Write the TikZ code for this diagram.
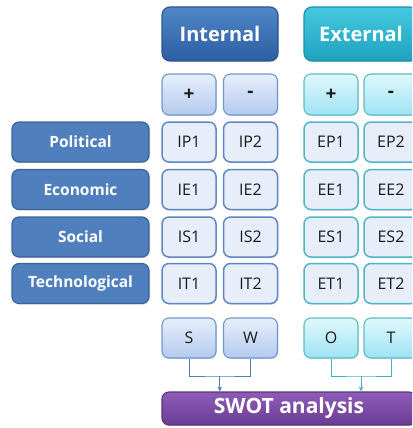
\documentclass[tikz,border=0pt]{standalone}
\usepackage{fontspec}
\setmainfont{Open Sans}
\usetikzlibrary{shadows,arrows.meta}
\definecolor{ihdtop}{HTML}{4F87C9}
\definecolor{ihdbot}{HTML}{2C5EA2}
\definecolor{ihdbd}{HTML}{2B5590}
\definecolor{ehdtop}{HTML}{45C8DF}
\definecolor{ehdbot}{HTML}{1EA2BF}
\definecolor{ehdbd}{HTML}{1B8FA8}
\definecolor{ipmtop}{HTML}{E6EEFB}
\definecolor{ipmbot}{HTML}{B3CAEE}
\definecolor{ipmbd}{HTML}{6E97CE}
\definecolor{epmtop}{HTML}{E0F8FC}
\definecolor{epmbot}{HTML}{9EE3F3}
\definecolor{epmbd}{HTML}{5BBCCC}
\definecolor{cellfill}{HTML}{E7EEFA}
\definecolor{icellbd}{HTML}{5E88C2}
\definecolor{ecellbd}{HTML}{4FB6C8}
\definecolor{lblfill}{HTML}{4F80BD}
\definecolor{lblbd}{HTML}{3B6496}
\definecolor{swtop}{HTML}{8E5CB8}
\definecolor{swbot}{HTML}{6A3D93}
\definecolor{swbd}{HTML}{57347A}
\definecolor{iline}{HTML}{4A7EBF}
\definecolor{eline}{HTML}{3FB3C8}
\definecolor{txt}{HTML}{1A1A1A}
\tikzset{
  base/.style={rounded corners=7pt, line width=1.1pt, inner sep=0pt,
    drop shadow={opacity=0.25, shadow xshift=0.8pt, shadow yshift=-1.2pt}},
  ihead/.style={base, rounded corners=8pt, top color=ihdtop, bottom color=ihdbot, draw=ihdbd,
    minimum width=116pt, minimum height=54pt, text=white, font=\fontsize{20}{23}\selectfont\bfseries},
  ehead/.style={ihead, top color=ehdtop, bottom color=ehdbot, draw=ehdbd, minimum width=114pt},
  ipm/.style={base, top color=ipmtop, bottom color=ipmbot, draw=ipmbd,
    minimum width=54pt, minimum height=41pt, text=txt, font=\fontsize{19}{22}\selectfont\bfseries},
  epm/.style={ipm, top color=epmtop, bottom color=epmbot, draw=epmbd},
  icell/.style={base, fill=cellfill, draw=icellbd, line width=1.5pt,
    minimum width=54pt, minimum height=40pt, text=txt, font=\fontsize{16}{19}\selectfont},
  ecell/.style={icell, draw=ecellbd},
  isw/.style={ipm, minimum height=40pt, font=\fontsize{16}{19}\selectfont},
  esw/.style={epm, minimum height=40pt, font=\fontsize{16}{19}\selectfont},
  lbl/.style={base, fill=lblfill, draw=lblbd, line width=1.2pt, minimum width=137pt, minimum height=40pt,
    text=white, font=\fontsize{15.5}{18}\selectfont\bfseries},
  swot/.style={base, top color=swtop, bottom color=swbot, draw=swbd, minimum width=254pt, minimum height=33pt,
    text=white, font=\fontsize{21}{24}\selectfont\bfseries},
  iconn/.style={draw=iline, line width=0.8pt},
  econn/.style={draw=eline, line width=0.8pt},
  arr/.style={-{Stealth[length=5pt,width=4.5pt]}}
}
\begin{document}
\begin{tikzpicture}[x=1pt,y=-1pt]
\useasboundingbox (0,0) rectangle (412,428);
\clip (0,0) rectangle (412,428);
\fill[white] (0,0) rectangle (412,428);
% headers
\node[ihead] (int) at (220,34) {Internal};
\node[ehead] (ext) at (361,34) {External};
% plus / minus
\node[ipm] (ip) at (189,94.5) {+};
\node[ipm] (im) at (250.5,94.5) {-};
\node[epm] (ep) at (331,94.5) {+};
\node[epm] (em) at (391,94.5) {-};
% row labels
\node[lbl] (pol) at (80.5,142) {Political};
\node[lbl] (eco) at (80.5,189.5) {Economic};
\node[lbl] (soc) at (80.5,237) {Social};
\node[lbl] (tec) at (80.5,283.5) {Technological};
% cells
\node[icell] (ip1) at (189,142) {IP1};
\node[icell] (ip2) at (250.5,142) {IP2};
\node[ecell] (ep1) at (331,142) {EP1};
\node[ecell] (ep2) at (391,142) {EP2};
\node[icell] (ie1) at (189,189.5) {IE1};
\node[icell] (ie2) at (250.5,189.5) {IE2};
\node[ecell] (ee1) at (331,189.5) {EE1};
\node[ecell] (ee2) at (391,189.5) {EE2};
\node[icell] (is1) at (189,237) {IS1};
\node[icell] (is2) at (250.5,237) {IS2};
\node[ecell] (es1) at (331,237) {ES1};
\node[ecell] (es2) at (391,237) {ES2};
\node[icell] (it1) at (189,283.5) {IT1};
\node[icell] (it2) at (250.5,283.5) {IT2};
\node[ecell] (et1) at (331,283.5) {ET1};
\node[ecell] (et2) at (391,283.5) {ET2};
% SWOT
\node[isw] (s) at (189,338) {S};
\node[isw] (w) at (250.5,338) {W};
\node[esw] (o) at (331,338) {O};
\node[esw] (t) at (391,338) {T};
\node[swot] (sa) at (289,408.5) {SWOT analysis};
% connectors
\coordinate (ji) at (219.75,376);
\coordinate (je) at (361,376);
\draw[iconn] (s.south) |- (ji) -| (w.south);
\draw[iconn,arr] (ji) -- (ji |- sa.north);
\draw[econn] (o.south) |- (je) -| (t.south);
\draw[econn,arr] (je) -- (je |- sa.north);
\end{tikzpicture}
\end{document}
